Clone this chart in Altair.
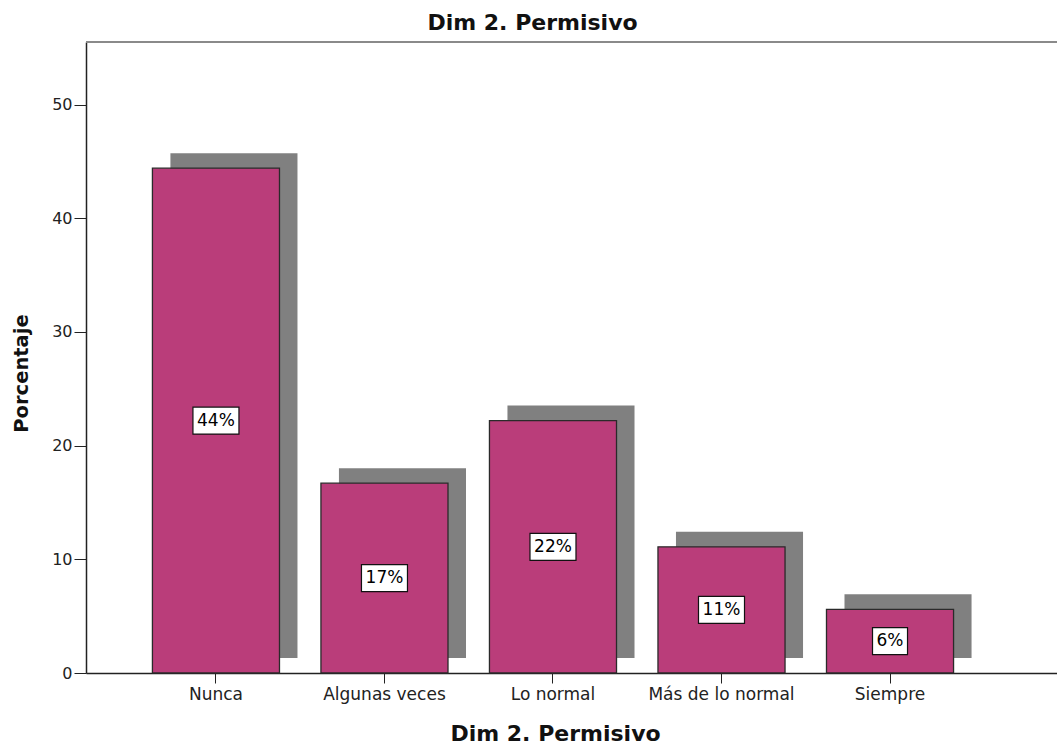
import altair as alt
import pandas as pd

# Frequencies of "Dim 2. Permisivo" (percent of cases)
categorias = ["Nunca", "Algunas veces", "Lo normal", "Más de lo normal", "Siempre"]
porcentajes = [44.4, 16.7, 22.2, 11.1, 5.6]
y_ticks = [0, 10, 20, 30, 40, 50]

df = pd.DataFrame({"categoria": categorias, "pct": porcentajes})
df["etiqueta"] = [f"{round(v)}%" for v in porcentajes]
df["mitad"] = df["pct"] / 2


def caja(txt, alto=27):
    # white label box as a custom symbol path, width grows with the text
    ancho = 11 * len(txt) + 13
    r = alto / ancho
    return f"M-1,{-r:.4f}L1,{-r:.4f}L1,{r:.4f}L-1,{r:.4f}Z", ancho * ancho


df["forma"] = [caja(t)[0] for t in df["etiqueta"]]
df["area"] = [caja(t)[1] for t in df["etiqueta"]]

FONT = "DejaVu Sans"
W, H = 971, 631

x_enc = alt.X(
    "categoria:N",
    sort=categorias,
    scale=alt.Scale(paddingInner=0.246, paddingOuter=0.504, align=0.391),
    axis=alt.Axis(
        title="Dim 2. Permisivo",
        titleX=469,
        titleY=67,
        titleBaseline="alphabetic",
        titleAlign="center",
        titleFontSize=22,
        titleFontWeight="bold",
        titleColor="#111",
        labelAngle=0,
        labelFontSize=17,
        labelColor="#222",
        labelPadding=3,
        tickSize=10,
        tickColor="#222",
        domainColor="#222",
        domainWidth=1.5,
    ),
)

y_scale = alt.Scale(domain=[0, 55.5], nice=False, zero=True)
y_axis = alt.Axis(
    title="Porcentaje",
    values=y_ticks,
    titleX=-65,
    titleY=331,
    titleAngle=-90,
    titleBaseline="middle",
    titleAlign="center",
    titleFontSize=19.5,
    titleFontWeight="bold",
    titleColor="#111",
    labelFontSize=16,
    labelColor="#222",
    labelPadding=2,
    tickSize=12,
    tickColor="#222",
    domainColor="#222",
    domainWidth=1.5,
    grid=False,
)

base = alt.Chart(df)

sombra = base.mark_bar(
    color="#808080", xOffset=18, x2Offset=18, yOffset=-15, y2Offset=-15
).encode(x=x_enc, y=alt.Y("pct:Q", scale=y_scale, axis=y_axis))

barras = base.mark_bar(
    color="#BA3D7A", stroke="#2a2a2a", strokeWidth=1.3
).encode(x=x_enc, y=alt.Y("pct:Q", scale=y_scale, axis=y_axis))

cajas = base.mark_point(
    filled=True, fill="white", stroke="#111", strokeWidth=1.2, opacity=1
).encode(
    x=x_enc,
    y=alt.Y("mitad:Q", scale=y_scale),
    shape=alt.Shape("forma:N", scale=None),
    size=alt.Size("area:Q", scale=None),
)

textos = base.mark_text(
    font=FONT, fontSize=17, color="#000", baseline="middle", align="center"
).encode(x=x_enc, y=alt.Y("mitad:Q", scale=y_scale), text="etiqueta:N")

borde_sup = alt.Chart(pd.DataFrame({"k": [0]})).mark_rule(
    color="#8a8a8a", strokeWidth=2
).encode(y=alt.value(0), x=alt.value(0), x2=alt.value(W))

chart = (
    alt.layer(sombra, barras, cajas, textos, borde_sup)
    .properties(
        width=W,
        height=H,
        title=alt.TitleParams(
            "Dim 2. Permisivo",
            fontSize=22,
            fontWeight="bold",
            font=FONT,
            color="#111",
            anchor="middle",
            dx=-39,
            offset=6,
        ),
        autosize=alt.AutoSizeParams(type="none"),
        padding={"left": 86, "top": 42, "right": 0, "bottom": 69},
        background="white",
    )
    .configure_view(stroke=None, fill="#EFEFEF")
    .configure(font=FONT)
    .configure_axis(labelFont=FONT, titleFont=FONT)
)

chart.save("out.html", embed_options={"renderer": "svg", "actions": False})
